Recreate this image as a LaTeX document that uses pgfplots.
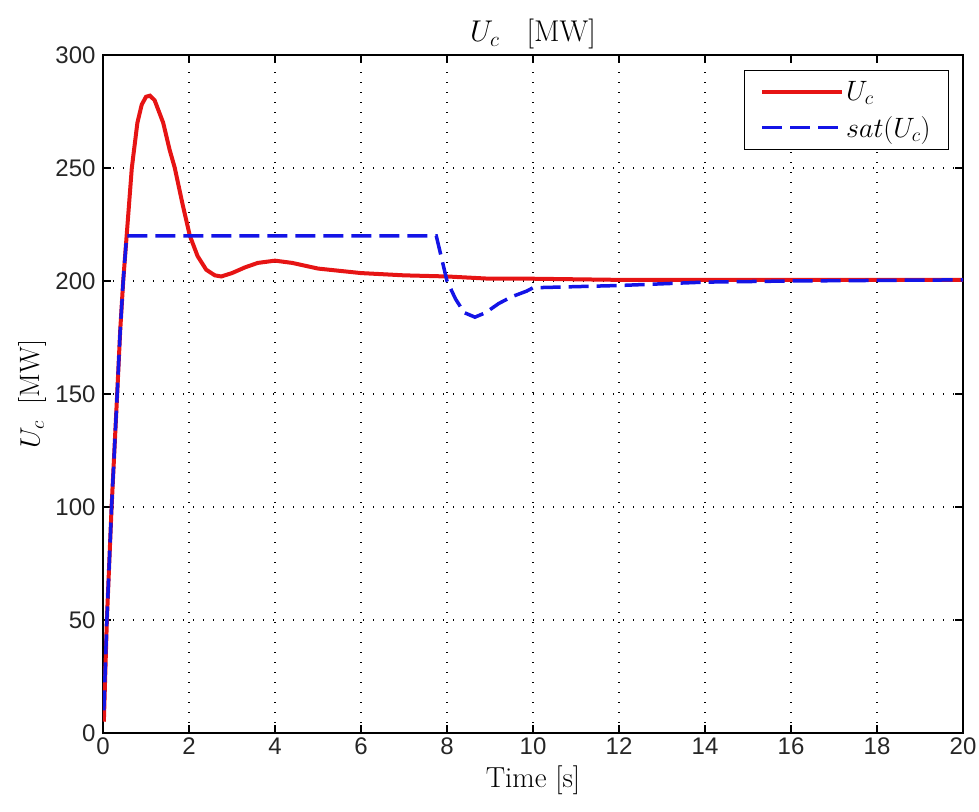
\documentclass[border=0pt]{standalone}
\usepackage{fix-cm}
\usepackage{fontspec}
\setsansfont{Liberation Sans}
\usepackage{pgfplots}
\pgfplotsset{compat=1.18}
\begin{document}
\begin{tikzpicture}
\begin{axis}[
  scale only axis,
  width=860pt, height=678pt,
  xmin=0, xmax=20, ymin=0, ymax=300,
  xtick={0,2,...,20}, ytick={0,50,...,300},
  tick align=inside,
  major tick length=8pt,
  xtick pos=both, ytick pos=both,
  grid=major,
  grid style={black, line width=1.3pt, dash pattern=on 1.3pt off 8.7pt},
  axis line style={black, line width=1.2pt},
  tick style={black, line width=1.2pt},
  ticklabel style={font=\sffamily\fontsize{24}{28}\selectfont, text=black!85},
  yticklabel style={xshift=-4pt},
  xticklabel style={yshift=-1pt},
  /pgf/number format/assume math mode=true,
  xlabel={Time [s]},
  ylabel={$U_c$\ \ [MW]},
  title={$U_c$\ \ \ [MW]},
  xlabel style={font=\fontsize{29}{33}\selectfont, yshift=-4pt},
  ylabel style={font=\fontsize{28}{32}\selectfont, yshift=2pt},
  title style={font=\fontsize{30}{34}\selectfont, yshift=-4pt},
  legend style={at={(rel axis cs:0.984,0.978)}, anchor=north east, draw=black, line width=1.2pt,
    font=\fontsize{28}{32}\selectfont, row sep=10pt, inner xsep=16pt, inner ysep=9pt},
  legend cell align=left,
  legend image code/.code={\draw[#1] (0pt,0pt) -- (80pt,0pt);},
]
\coordinate (sw) at (rel axis cs:0,0);
\coordinate (ne) at (rel axis cs:1,1);
\addplot[color={rgb,255:red,230;green,20;blue,20}, line width=4pt] coordinates {
(0.02,5) (0.09,50) (0.2,100) (0.33,150) (0.4,178) (0.47,200) (0.55,220) (0.67,250) (0.8,270)
(0.9,278) (1.0,281.5) (1.09,282) (1.2,280) (1.4,270) (1.55,258) (1.67,250) (1.85,234) (2.02,220)
(2.2,211) (2.4,205) (2.6,202.5) (2.75,202) (3.0,203.5) (3.3,206) (3.6,208) (4.0,209) (4.4,208)
(5.0,205.5) (6.0,203.5) (7.0,202.5) (8.0,202) (9.0,201) (10.0,201) (12.0,200.5) (20.0,200.5)
};
\addlegendentry{$U_c$}
\addplot[color={rgb,255:red,20;green,20;blue,230}, line width=3.5pt, dash pattern=on 20pt off 8pt] coordinates {
(0.02,10) (0.09,50) (0.2,100) (0.33,150) (0.4,178) (0.47,200) (0.55,220) (7.75,220)
(7.85,212) (8.0,200) (8.2,192) (8.4,186) (8.65,184) (8.9,186) (9.2,190) (9.5,193)
(9.85,195.5) (10.0,197) (11.0,197.5) (12.0,198) (14.0,199.5) (16.0,200) (20.0,200.5)
};
\addlegendentry{$sat(U_c)$}
\end{axis}
\pgfresetboundingbox
\path[use as bounding box] ([xshift=-103pt,yshift=-79pt]sw) rectangle ([xshift=16pt,yshift=55pt]ne);
\end{tikzpicture}
\end{document}
